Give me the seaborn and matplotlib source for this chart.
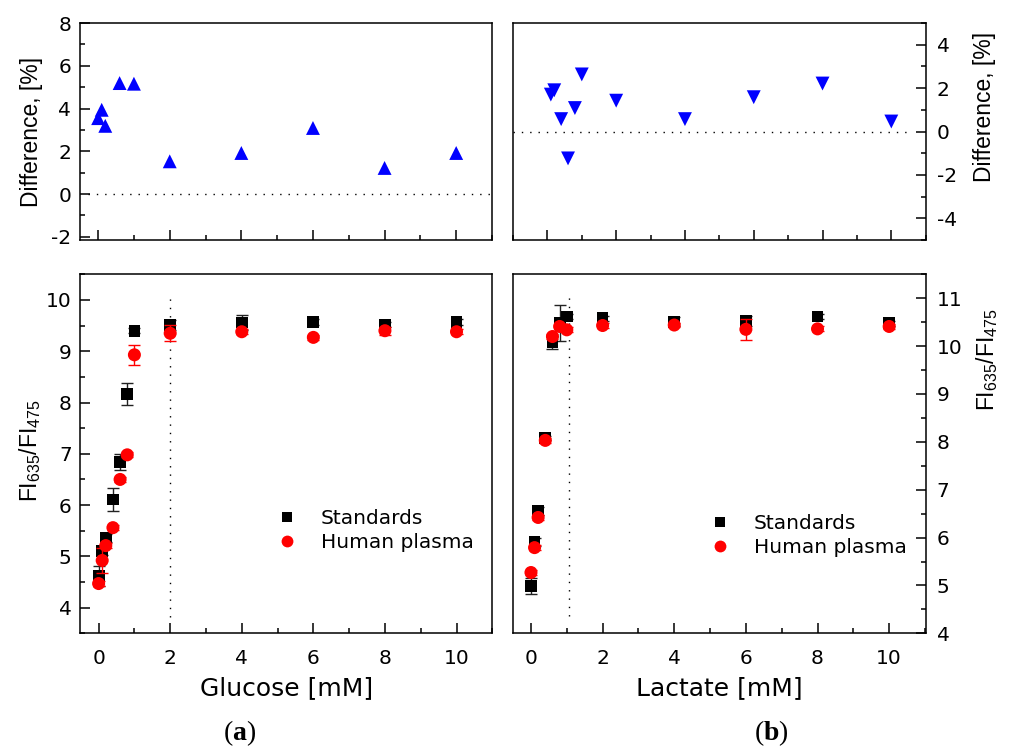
import matplotlib
matplotlib.use("Agg")
import matplotlib.pyplot as plt
import numpy as np
import pandas as pd
import seaborn as sns
from matplotlib.ticker import MultipleLocator
from matplotlib.lines import Line2D

# ---------------- data ----------------
glu_conc = [0, 0.1, 0.2, 0.4, 0.6, 0.8, 1.0, 2, 4, 6, 8, 10]
glu_std = [4.62, 5.10, 5.36, 6.11, 6.84, 8.17, 9.40, 9.51, 9.56, 9.57, 9.52, 9.57]
glu_std_err = [0.20, 0.08, 0.08, 0.23, 0.15, 0.22, 0.05, 0.10, 0.15, 0.05, 0.05, 0.05]
glu_plasma = [4.47, 4.92, 5.21, 5.56, 6.50, 6.98, 8.93, 9.35, 9.38, 9.27, 9.40, 9.38]
glu_plasma_err = [0.05, 0.24, 0.05, 0.05, 0.05, 0.05, 0.19, 0.16, 0.05, 0.05, 0.08, 0.05]
glu_diff_conc = [0, 0.1, 0.2, 0.6, 1.0, 2, 4, 6, 8, 10]
glu_diff = [3.55, 3.94, 3.19, 5.19, 5.16, 1.53, 1.92, 3.09, 1.22, 1.92]

lac_conc = [0, 0.1, 0.2, 0.4, 0.6, 0.8, 1.0, 2, 4, 6, 8, 10]
lac_std = [4.99, 5.91, 6.56, 8.08, 10.08, 10.48, 10.62, 10.58, 10.51, 10.53, 10.62, 10.48]
lac_std_err = [0.16, 0.08, 0.08, 0.05, 0.14, 0.37, 0.05, 0.05, 0.10, 0.10, 0.05, 0.05]
lac_plasma = [5.27, 5.79, 6.42, 8.03, 10.20, 10.41, 10.34, 10.43, 10.44, 10.35, 10.36, 10.41]
lac_plasma_err = [0.05, 0.05, 0.05, 0.05, 0.05, 0.05, 0.05, 0.05, 0.05, 0.22, 0.05, 0.05]
lac_diff_conc = [0.1, 0.2, 0.4, 0.6, 0.8, 1.0, 2, 4, 6, 8, 10]
lac_diff = [1.70, 1.90, 0.57, -1.24, 1.08, 2.63, 1.42, 0.57, 1.58, 2.21, 0.46]

legend_labels = ["Standards", "Human plasma"]
glu_xlabel = "Glucose [mM]"
lac_xlabel = "Lactate [mM]"
diff_ylabel = "Difference, [%]"
ratio_ylabel = r"FI$_{\mathsf{635}}$/FI$_{\mathsf{475}}$"

# ---------------- style ----------------
sns.set_theme(style="ticks")
plt.rcParams["font.family"] = ["DejaVu Sans"]
plt.rcParams["mathtext.fontset"] = "custom"
plt.rcParams["mathtext.rm"] = "Liberation Serif"
plt.rcParams["mathtext.bf"] = "Liberation Serif:bold"
plt.rcParams["mathtext.sf"] = "Liberation Sans"
plt.rcParams["axes.unicode_minus"] = False
plt.rcParams["axes.edgecolor"] = "black"
plt.rcParams["axes.linewidth"] = 1.1
plt.rcParams["text.color"] = "black"
plt.rcParams["xtick.color"] = "black"
plt.rcParams["ytick.color"] = "black"

W, H = 1016, 749
fig = plt.figure(figsize=(W / 100, H / 100), dpi=100)


def rect(x0, y0, x1, y1):
    return [x0 / W, 1 - y1 / H, (x1 - x0) / W, (y1 - y0) / H]


ax_tl = fig.add_axes(rect(79.5, 23, 492, 240))
ax_tr = fig.add_axes(rect(513, 23, 925.7, 240))
ax_bl = fig.add_axes(rect(80, 274.3, 492.3, 633.3))
ax_br = fig.add_axes(rect(512.7, 274.3, 925.7, 633.3))

TICK_FS = 14.5
dot = (0, (1, 5))


def style_axes(ax, side):
    ax.tick_params(which="both", direction="in", width=1.1,
                   labelsize=TICK_FS, top=False,
                   left=(side == "left"), right=(side == "right"),
                   labelleft=(side == "left"), labelright=(side == "right"))
    ax.tick_params(which="major", length=7)
    ax.tick_params(which="minor", length=3.5)
    ax.tick_params(axis="x", pad=11.5)
    ax.tick_params(axis="y", pad=6 if side == "left" else 8)
    for s in ax.spines.values():
        s.set_visible(True)
        s.set_linewidth(1.1)
        s.set_color("black")
    ax.set_xlabel("")
    ax.set_ylabel("")


# ---------------- top-left: glucose difference ----------------
df_gd = pd.DataFrame({"conc": glu_diff_conc, "diff": glu_diff})
sns.scatterplot(data=df_gd, x="conc", y="diff", ax=ax_tl, marker="^", s=100,
                color="#0000FF", edgecolor="none", legend=False, zorder=3)
ax_tl.axhline(0, xmin=0.02, xmax=1.0, color="black", lw=1.0, ls=dot)
ax_tl.set_xlim(-0.52, 11.0)
ax_tl.set_ylim(-2.15, 8.0)
ax_tl.xaxis.set_major_locator(MultipleLocator(2))
ax_tl.xaxis.set_minor_locator(MultipleLocator(1))
ax_tl.yaxis.set_major_locator(MultipleLocator(2))
ax_tl.yaxis.set_minor_locator(MultipleLocator(1))
style_axes(ax_tl, "left")
ax_tl.tick_params(labelbottom=False)

# ---------------- top-right: lactate difference ----------------
df_ld = pd.DataFrame({"conc": lac_diff_conc, "diff": lac_diff})
sns.scatterplot(data=df_ld, x="conc", y="diff", ax=ax_tr, marker="v", s=100,
                color="#0000FF", edgecolor="none", legend=False, zorder=3)
ax_tr.axhline(0, xmin=0.0, xmax=0.97, color="black", lw=1.0, ls=dot)
ax_tr.set_xlim(-1.0, 11.0)
ax_tr.set_ylim(-5.0, 5.0)
ax_tr.xaxis.set_major_locator(MultipleLocator(2))
ax_tr.xaxis.set_minor_locator(MultipleLocator(1))
ax_tr.yaxis.set_major_locator(MultipleLocator(2))
ax_tr.yaxis.set_minor_locator(MultipleLocator(1))
ax_tr.yaxis.tick_right()
style_axes(ax_tr, "right")
ax_tr.tick_params(labelbottom=False)


# ---------------- bottom panels ----------------
def calib(ax, conc, std, std_err, pl, pl_err):
    ax.errorbar(conc, std, yerr=std_err, fmt="none", ecolor="#222222",
                elinewidth=1.0, capsize=4, capthick=1.0, zorder=2)
    df_s = pd.DataFrame({"conc": conc, "ratio": std})
    sns.scatterplot(data=df_s, x="conc", y="ratio", ax=ax, marker="s", s=72,
                    color="black", edgecolor="none", legend=False, zorder=3)
    ax.errorbar(conc, pl, yerr=pl_err, fmt="none", ecolor="#FF0000",
                elinewidth=1.0, capsize=4, capthick=1.0, zorder=4)
    df_p = pd.DataFrame({"conc": conc, "ratio": pl})
    sns.scatterplot(data=df_p, x="conc", y="ratio", ax=ax, marker="o", s=88,
                    color="#FF0000", edgecolor="none", legend=False, zorder=5)


calib(ax_bl, glu_conc, glu_std, glu_std_err, glu_plasma, glu_plasma_err)
ax_bl.vlines(2, 3.82, 10.05, color="black", lw=1.0, ls=dot)
ax_bl.set_xlim(-0.52, 11.0)
ax_bl.set_ylim(3.5, 10.5)
ax_bl.xaxis.set_major_locator(MultipleLocator(2))
ax_bl.xaxis.set_minor_locator(MultipleLocator(1))
ax_bl.yaxis.set_major_locator(MultipleLocator(1))
ax_bl.yaxis.set_minor_locator(MultipleLocator(0.5))
style_axes(ax_bl, "left")

calib(ax_br, lac_conc, lac_std, lac_std_err, lac_plasma, lac_plasma_err)
ax_br.vlines(1.05, 4.36, 11.07, color="black", lw=1.0, ls=dot)
ax_br.set_xlim(-0.51, 11.02)
ax_br.set_ylim(4.0, 11.5)
ax_br.xaxis.set_major_locator(MultipleLocator(2))
ax_br.xaxis.set_minor_locator(MultipleLocator(1))
ax_br.yaxis.set_major_locator(MultipleLocator(1))
ax_br.yaxis.set_minor_locator(MultipleLocator(0.5))
ax_br.yaxis.tick_right()
style_axes(ax_br, "right")

# legends
handles = [
    Line2D([], [], ls="none", marker="s", markersize=7.5, color="black", markeredgewidth=0),
    Line2D([], [], ls="none", marker="o", markersize=8.5, color="#FF0000", markeredgewidth=0),
]
for ax, anchor in ((ax_bl, (0.482, 0.2855)), (ax_br, (0.482, 0.272))):
    ax.legend(handles, legend_labels, loc="center left", bbox_to_anchor=anchor,
              frameon=False, fontsize=14.5, handlelength=0.8, handletextpad=1.3,
              labelspacing=0.25, borderpad=0, borderaxespad=0)

# axis labels
LAB_FS = 18
ax_bl.text(0.5, (633.3 - 676) / 359, glu_xlabel, transform=ax_bl.transAxes,
           ha="center", va="top", fontsize=LAB_FS)
ax_br.text(0.5, (633.3 - 676) / 359, lac_xlabel, transform=ax_br.transAxes,
           ha="center", va="top", fontsize=LAB_FS)

YL_FS = 16.5
fig.text(32 / W, 1 - 132 / H, diff_ylabel, rotation=90, ha="center", va="center",
         fontsize=YL_FS, family="Liberation Sans")
fig.text(984 / W, 1 - 107 / H, diff_ylabel, rotation=90, ha="center", va="center",
         fontsize=YL_FS, family="Liberation Sans")
fig.text(30 / W, 1 - 451 / H, ratio_ylabel, rotation=90, ha="center", va="center",
         fontsize=YL_FS, family="Liberation Sans")
fig.text(987 / W, 1 - 360 / H, ratio_ylabel, rotation=90, ha="center", va="center",
         fontsize=YL_FS, family="Liberation Sans")

# panel letters
fig.text(240 / W, 1 - 733 / H, r"($\mathbf{a}$)", ha="center", va="center",
         fontsize=20, family="Liberation Serif")
fig.text(771 / W, 1 - 733 / H, r"($\mathbf{b}$)", ha="center", va="center",
         fontsize=20, family="Liberation Serif")

fig.savefig("out.png", dpi=100)
